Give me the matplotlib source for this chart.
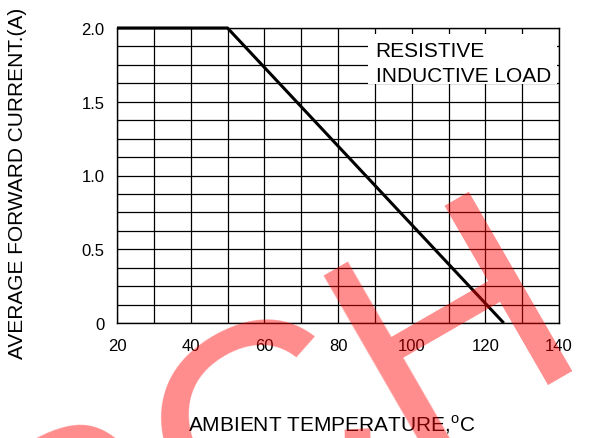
import numpy as np
import matplotlib
matplotlib.use("Agg")
import matplotlib.pyplot as plt
from matplotlib.patches import Rectangle

# data
temp_c = [20, 50, 125]
current_a = [2.0, 2.0, 0.0]

x_ticks = [20, 40, 60, 80, 100, 120, 140]
y_ticks = [0, 0.5, 1.0, 1.5, 2.0]
y_tick_labels = ["0", "0.5", "1.0", "1.5", "2.0"]

plt.rcParams["font.family"] = ["Liberation Sans", "DejaVu Sans"]
plt.rcParams["mathtext.fontset"] = "custom"
plt.rcParams["mathtext.rm"] = "Liberation Sans"

W, H = 595, 439
fig = plt.figure(figsize=(W / 100, H / 100), dpi=100)
ax = fig.add_axes([117 / W, 1 - 324 / H, 442 / W, 295 / H])

ax.set_xlim(20, 140)
ax.set_ylim(0, 2.0)
ax.set_xticks(x_ticks)
ax.set_yticks(y_ticks)
ax.set_yticklabels(y_tick_labels)
ax.set_xticks(np.arange(20, 141, 10), minor=True)
ax.set_yticks(np.arange(0, 2.01, 0.125), minor=True)
ax.tick_params(which="both", length=0)
ax.tick_params(axis="x", pad=11, labelsize=12)
ax.tick_params(axis="y", pad=9, labelsize=12)
ax.grid(which="both", color="black", lw=0.9)
ax.set_axisbelow(True)
for s in ax.spines.values():
    s.set_linewidth(1.0)

ax.plot(temp_c, current_a, color="black", lw=2.2, solid_capstyle="butt",
        zorder=4, clip_on=False)

# white label box over the grid
ax.add_patch(Rectangle((0.568, 0.81), 0.427, 0.17, transform=ax.transAxes,
                       facecolor="white", edgecolor="none", zorder=3))
ax.text(0.585, 0.905, "RESISTIVE", transform=ax.transAxes, fontsize=15,
        va="baseline", zorder=5)
ax.text(0.585, 0.82, "INDUCTIVE LOAD", transform=ax.transAxes, fontsize=15,
        va="baseline", zorder=5)

fig.text(18 / W, 1 - 183 / H, "AVERAGE FORWARD CURRENT.(A)", rotation=90,
         ha="center", va="center", fontsize=15)
fig.text(332 / W, 1 - 425 / H, r"AMBIENT TEMPERATURE,$^{\rm o}$C",
         ha="center", va="center", fontsize=15)

# red watermark on top, running off the figure edge
fig.text(44 / W, 1 - 668 / H, "SCH", rotation=30, rotation_mode="anchor",
         ha="left", va="baseline", fontsize=216, color="red", alpha=0.45,
         zorder=10)

fig.savefig("out.png", dpi=100)
